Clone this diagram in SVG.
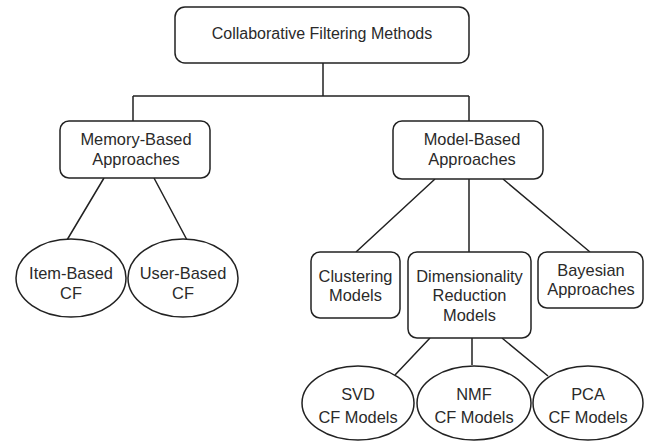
<svg xmlns="http://www.w3.org/2000/svg" width="645" height="443" viewBox="0 0 645 443">
<style>
.box{fill:#fff;stroke:#222;stroke-width:1.5}
.ell{fill:#fff;stroke:#222;stroke-width:1.5}
.ln{stroke:#222;stroke-width:1.5;fill:none}
text{font-family:"Liberation Sans",Arial,sans-serif;font-size:16.4px;fill:#2a2a2a;text-anchor:middle}
</style>
<rect width="645" height="443" fill="#fff"/>
<g id="connectors">
<path class="ln" d="M323,63 V96 M133,96 H469 M133,96 V121 M469,96 V121"/>
<path class="ln" d="M104,178 L67,240 M154,178 L187,240"/>
<path class="ln" d="M435,179 L356,252 M469,179 V252 M503,179 L590,252"/>
<path class="ln" d="M430,338 L395,375 M472,338 V365 M502,338 L548,376"/>
</g>
<g id="root">
<rect class="box" x="175" y="7" width="294" height="56" rx="10"/>
<text x="322" y="39" style="font-size:16px">Collaborative Filtering Methods</text>
</g>
<g id="memory">
<rect class="box" x="60" y="121" width="150" height="57" rx="9"/>
<text x="136" y="145">Memory-Based</text>
<text x="136" y="165">Approaches</text>
</g>
<g id="model">
<rect class="box" x="393" y="121" width="150" height="58" rx="9"/>
<text x="472" y="145">Model-Based</text>
<text x="472" y="165">Approaches</text>
</g>
<g id="item">
<ellipse class="ell" cx="71" cy="278" rx="55" ry="39"/>
<text x="71" y="279">Item-Based</text>
<text x="71" y="299">CF</text>
</g>
<g id="user">
<ellipse class="ell" cx="183" cy="278" rx="55" ry="39"/>
<text x="183" y="279">User-Based</text>
<text x="183" y="299">CF</text>
</g>
<g id="clustering">
<rect class="box" x="311" y="252" width="89" height="66" rx="9"/>
<text x="355.5" y="282">Clustering</text>
<text x="355.5" y="301">Models</text>
</g>
<g id="dimred">
<rect class="box" x="408" y="252" width="123" height="86" rx="9"/>
<text x="469.5" y="282">Dimensionality</text>
<text x="469.5" y="301">Reduction</text>
<text x="469.5" y="321">Models</text>
</g>
<g id="bayesian">
<rect class="box" x="538" y="252" width="105" height="56" rx="9"/>
<text x="591" y="276">Bayesian</text>
<text x="591" y="295">Approaches</text>
</g>
<g id="svd">
<ellipse class="ell" cx="358" cy="403" rx="56" ry="37"/>
<text x="358" y="400">SVD</text>
<text x="358" y="423">CF Models</text>
</g>
<g id="nmf">
<ellipse class="ell" cx="474" cy="403" rx="57" ry="37"/>
<text x="474" y="400">NMF</text>
<text x="474" y="423">CF Models</text>
</g>
<g id="pca">
<ellipse class="ell" cx="588" cy="403" rx="55" ry="37"/>
<text x="588" y="400">PCA</text>
<text x="588" y="423">CF Models</text>
</g>
</svg>
